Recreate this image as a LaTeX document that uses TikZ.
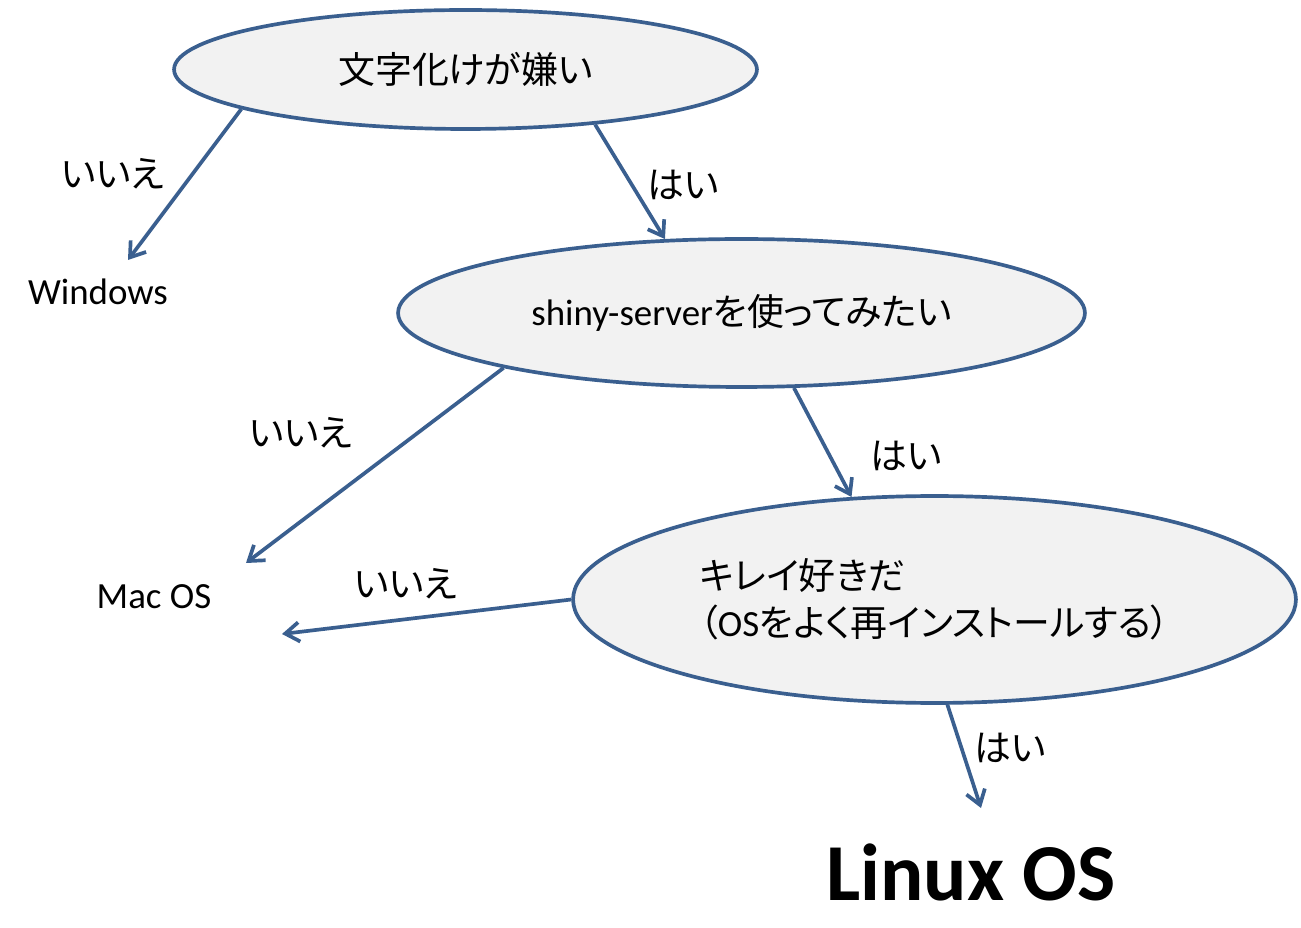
\documentclass[tikz,border=0pt]{standalone}
\usepackage{fontspec}
\setmainfont{Carlito}
\newfontfamily\jp[RawFeature=+palt]{Noto Sans CJK JP}
\usetikzlibrary{shapes.geometric,arrows.meta}
\definecolor{edgeblue}{HTML}{3A5F8F}
\definecolor{qfill}{HTML}{F2F2F2}
\tikzset{
  question/.style={ellipse, draw=edgeblue, fill=qfill, line width=2.1pt, inner sep=0pt,
    font=\fontsize{21}{27}\selectfont},
  lbl/.style={inner sep=0pt, font=\fontsize{21}{27}\selectfont\jp},
  answer/.style={inner sep=0pt, font=\fontsize{21}{27}\selectfont},
  link/.style={draw=edgeblue, line width=2.1pt, -{Straight Barb[length=8pt,width=11pt,line width=2.1pt]}}
}
\begin{document}
\begin{tikzpicture}[x=0.02cm, y=-0.02cm]
\useasboundingbox (0,0) rectangle (1301,928);
\node[question, minimum width=11.66cm, minimum height=2.38cm] (e1) at (465.5,69.5) {\jp 文字化けが嫌い};
\node[question, minimum width=13.74cm, minimum height=2.96cm] (e2) at (741.5,313) {shiny-server{\jp を使ってみたい}};
\node[question, minimum width=14.46cm, minimum height=4.14cm, align=left] (e3) at (934.5,599.5)
  {{\jp キレイ好きだ}\\{\jp （}OS{\jp をよく再インストールする）}};

\node[answer] (win) at (98,292) {Windows};
\node[answer] (mac) at (154,597) {Mac OS};
\node[inner sep=0pt, font=\fontsize{46}{50}\selectfont\bfseries] (linux) at (971,872) {Linux OS};

\coordinate (wend) at (128,260);
\coordinate (mend1) at (246,563);
\coordinate (mend2) at (282,634);
\coordinate (lend) at (981,808);

\draw[link] (e1.190) -- (wend);
\draw[link] (e1.337) -- (e2.136);
\draw[link] (e2.193) -- (mend1);
\draw[link] (e2.305) -- (e3.129);
\draw[link] (e3.west) -- (mend2);
\draw[link] (e3.277) -- (lend);

\node[lbl] (l1) at (112.5,174) {いいえ};
\node[lbl] (l2) at (683,185) {はい};
\node[lbl] (l3) at (301,433) {いいえ};
\node[lbl] (l4) at (906,456) {はい};
\node[lbl] (l5) at (406,584) {いいえ};
\node[lbl] (l6) at (1010,748) {はい};
\end{tikzpicture}
\end{document}
